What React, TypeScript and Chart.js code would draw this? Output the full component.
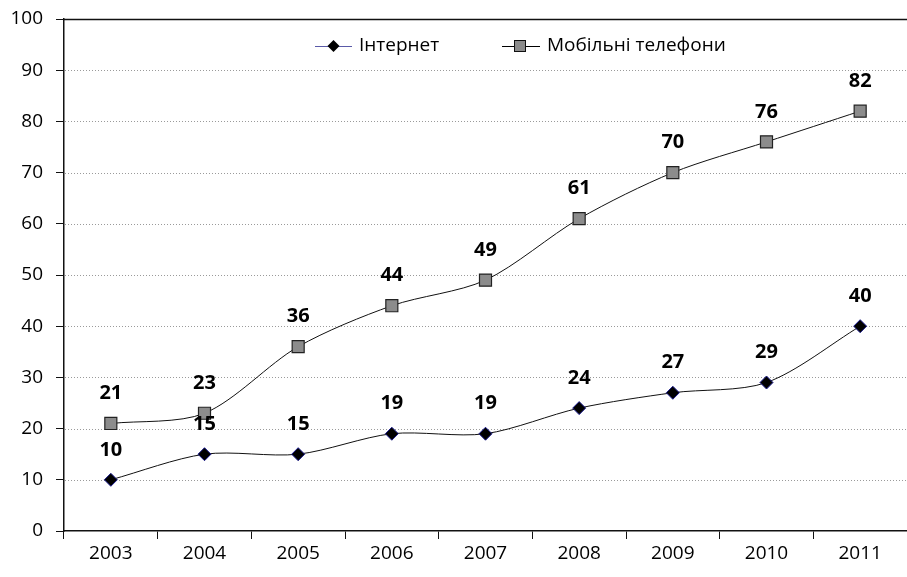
import React, { useEffect, useRef } from "react";
import { Chart, registerables } from "chart.js";

Chart.register(...registerables);

const years = ["2003", "2004", "2005", "2006", "2007", "2008", "2009", "2010", "2011"];
const internet = [10, 15, 15, 19, 19, 24, 27, 29, 40];
const mobile = [21, 23, 36, 44, 49, 61, 70, 76, 82];
const seriesNames = ["Інтернет", "Мобільні телефони"];

const FONT = "'Open Sans', 'DejaVu Sans', sans-serif";

// dotted horizontal guides, solid line on the top edge
const gridPlugin = {
  id: "dottedGrid",
  beforeDatasetsDraw(chart: any) {
    const { ctx, chartArea, scales } = chart;
    const y = scales.y;
    ctx.save();
    y.ticks.forEach((t: any) => {
      const py = Math.round(y.getPixelForValue(t.value)) + 0.5;
      if (t.value === 0) return;
      ctx.beginPath();
      if (t.value === 100) {
        ctx.setLineDash([]);
        ctx.strokeStyle = "#111";
        ctx.lineWidth = 1.5;
        ctx.moveTo(chartArea.left, py);
      } else {
        ctx.setLineDash([1, 2]);
        ctx.strokeStyle = "#9a9a9a";
        ctx.lineWidth = 1;
        ctx.moveTo(chartArea.left + 1, py);
      }
      ctx.lineTo(chart.width, py);
      ctx.stroke();
    });
    ctx.restore();
  },
};

// value labels above each point
const labelPlugin = {
  id: "valueLabels",
  afterDatasetsDraw(chart: any) {
    const { ctx } = chart;
    ctx.save();
    ctx.font = `bold 20px ${FONT}`;
    ctx.fillStyle = "#000";
    ctx.textAlign = "center";
    ctx.textBaseline = "middle";
    chart.data.datasets.forEach((ds: any, i: number) => {
      const meta = chart.getDatasetMeta(i);
      meta.data.forEach((pt: any, j: number) => {
        ctx.fillText(String(ds.data[j]), pt.x, pt.y - 30);
      });
    });
    ctx.restore();
  },
};

// legend with line + marker samples
const legendPlugin = {
  id: "lineLegend",
  afterDraw(chart: any) {
    const { ctx } = chart;
    const cy = 46;
    ctx.save();
    ctx.font = `19px ${FONT}`;
    ctx.textBaseline = "middle";
    ctx.textAlign = "left";

    // Інтернет
    ctx.strokeStyle = "#5a5aa8";
    ctx.lineWidth = 1;
    ctx.beginPath();
    ctx.moveTo(315, cy + 0.5);
    ctx.lineTo(352, cy + 0.5);
    ctx.stroke();
    ctx.beginPath();
    ctx.moveTo(333.5, cy - 6);
    ctx.lineTo(339.5, cy);
    ctx.lineTo(333.5, cy + 6);
    ctx.lineTo(327.5, cy);
    ctx.closePath();
    ctx.fillStyle = "#000";
    ctx.fill();
    ctx.fillText(seriesNames[0], 359, cy);

    // Мобільні телефони
    ctx.strokeStyle = "#000";
    ctx.beginPath();
    ctx.moveTo(502, cy + 0.5);
    ctx.lineTo(540, cy + 0.5);
    ctx.stroke();
    ctx.fillStyle = "#8c8c8c";
    ctx.fillRect(514, cy - 6, 12, 12);
    ctx.strokeStyle = "#111";
    ctx.strokeRect(514.5, cy - 5.5, 11, 11);
    ctx.fillStyle = "#000";
    ctx.fillText(seriesNames[1], 547, cy);
    ctx.restore();
  },
};

export default function App() {
  const ref = useRef<HTMLCanvasElement>(null);

  useEffect(() => {
    document.body.style.margin = "0";
    const chart = new Chart(ref.current!, {
      type: "line",
      data: {
        labels: years,
        datasets: [
          {
            label: seriesNames[0],
            data: internet,
            borderColor: "#111",
            borderWidth: 1,
            tension: 0.3,
            pointStyle: "rectRot",
            pointRadius: 6.5,
            pointBackgroundColor: "#000",
            pointBorderColor: "#1a1a8c",
            pointBorderWidth: 1,
          },
          {
            label: seriesNames[1],
            data: mobile,
            borderColor: "#111",
            borderWidth: 1,
            tension: 0.3,
            pointStyle: "rect",
            pointRadius: 8.5,
            pointBackgroundColor: "#8c8c8c",
            pointBorderColor: "#222",
            pointBorderWidth: 1.2,
          },
        ],
      },
      options: {
        animation: false,
        responsive: true,
        maintainAspectRatio: false,
        layout: { autoPadding: false, padding: { top: 19, right: -7, left: 0, bottom: 0 } },
        plugins: {
          legend: { display: false },
          tooltip: { enabled: false },
        },
        scales: {
          x: {
            offset: true,
            grid: {
              offset: true,
              drawOnChartArea: false,
              drawTicks: true,
              tickLength: 8,
              color: "#111",
            },
            border: { display: true, color: "#111", width: 1.5 },
            ticks: { color: "#000", font: { family: FONT, size: 19 }, padding: 3 },
            afterFit(scale: any) {
              scale.height = 46;
              scale.paddingLeft = 0;
              scale.paddingRight = 0;
            },
          },
          y: {
            min: 0,
            max: 100,
            grid: {
              drawOnChartArea: false,
              drawTicks: true,
              tickLength: 8,
              color: "#111",
            },
            border: { display: true, color: "#111", width: 1.5 },
            ticks: {
              stepSize: 10,
              color: "#000",
              font: { family: FONT, size: 19 },
              padding: 13,
            },
            afterFit(scale: any) {
              scale.width = 64;
              scale.paddingTop = 0;
              scale.paddingBottom = 0;
            },
          },
        },
      },
      plugins: [gridPlugin, labelPlugin, legendPlugin],
    });
    return () => chart.destroy();
  }, []);

  return (
    <div style={{ width: 907, height: 577, position: "relative", background: "#fff" }}>
      <canvas ref={ref} />
    </div>
  );
}
